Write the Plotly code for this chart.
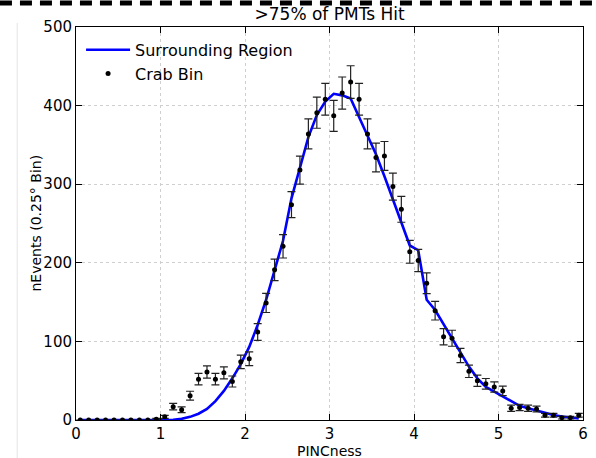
import plotly.graph_objects as go

# Bin centres (PINCness)
x_bins = [round(0.05 + 0.1 * i, 2) for i in range(60)]

# Crab Bin counts
crab_counts = [0, 0, 0, 0, 0, 0, 0, 0, 0, 1,
               4, 17, 13, 31, 52, 61, 52, 60, 49, 74,
               78, 112, 149, 191, 221, 274, 318, 364, 391, 408,
               387, 416, 430, 408, 364, 334, 336, 297, 268, 214,
               203, 174, 139, 106, 104, 82, 62, 50, 46, 42,
               37, 15, 16, 15, 14, 6, 6, 3, 3, 6]

# Error bars
crab_errors = [0, 0, 0, 0, 0, 0, 0, 0, 0, 1,
               2, 4.1, 3.6, 5.6, 7.2, 7.8, 7.2, 7.7, 7, 8.6,
               8.8, 10.6, 12.2, 13.8, 14.9, 16.6, 17.8, 19.1, 19.8, 20.2,
               19.7, 20.4, 20.7, 20.2, 19.1, 18.3, 18.3, 17.2, 16.4, 14.6,
               14.2, 13.2, 11.8, 10.3, 10.2, 9.1, 7.9, 7.1, 6.8, 6.5,
               6.1, 3.9, 4, 3.9, 3.7, 2.4, 2.4, 1.7, 1.7, 2.4]

# Surrounding Region (scaled)
surround = [0, 0, 0, 0, 0, 0, 0, 0, 0, 0,
            0, 0.3, 1.5, 4, 8, 14, 24, 37, 53, 71,
            93, 121, 153, 189, 228, 282, 322, 360, 388, 405,
            415, 413, 409, 385, 362, 338, 310, 281, 252, 222,
            216, 153, 140, 122, 104, 85, 68, 53, 42, 36,
            30, 23, 18, 15, 12, 8.5, 6.4, 4.5, 3, 2]

x_ticks = [0, 1, 2, 3, 4, 5, 6]
y_ticks = [0, 100, 200, 300, 400, 500]

fig = go.Figure()
fig.add_trace(go.Scatter(
    x=x_bins, y=surround, mode="lines", name="Surrounding Region",
    line=dict(color="#0000ff", width=2.6),
))
fig.add_trace(go.Scatter(
    x=x_bins, y=crab_counts, mode="markers", name="Crab Bin",
    marker=dict(color="black", size=5),
    error_y=dict(type="data", array=crab_errors, visible=True,
                 color="#222222", thickness=1.2, width=4),
))

font = "DejaVu Sans, Verdana, sans-serif"
axis_common = dict(
    showline=True, linecolor="black", linewidth=1, mirror="ticks",
    ticks="inside", ticklen=6, tickcolor="black", automargin=False,
    showgrid=True, gridcolor="#cfcfcf", griddash="dot", gridwidth=1,
    zeroline=False, tickfont=dict(size=15, color="black", family=font),
)
fig.update_xaxes(range=[0, 6], tickvals=x_ticks, **axis_common)
fig.update_yaxes(range=[0, 500], tickvals=y_ticks, **axis_common)

fig.update_layout(
    width=596, height=458,
    margin=dict(l=76, r=13, t=27, b=38),
    paper_bgcolor="white", plot_bgcolor="white",
    font=dict(family=font, color="black"),
    title=dict(text=">75% of PMTs Hit", x=0.553, xanchor="center",
               yref="container", y=1 - 14 / 458, yanchor="middle",
               font=dict(size=17, family=font, color="black")),
    legend=dict(x=0.01, y=0.985, xanchor="left", yanchor="top",
                bgcolor="rgba(0,0,0,0)", font=dict(size=16, family=font, color="black"),
                itemwidth=44),
    showlegend=True,
)

# Axis titles
fig.add_annotation(text="PINCness", xref="paper", yref="paper",
                   x=0.5, y=-(451 - 420) / 393, xanchor="center", yanchor="middle",
                   showarrow=False, font=dict(size=14, family=font, color="black"))
fig.add_annotation(text="nEvents (0.25° Bin)", xref="paper", yref="paper",
                   x=(35 - 76) / 507, y=0.5, xanchor="center", yanchor="middle",
                   textangle=-90, showarrow=False,
                   font=dict(size=14, family=font, color="black"))

# Top dashed border and faint left page line
fig.add_shape(type="line", xref="paper", yref="paper",
              x0=-0.15, x1=1.03, y0=1.061, y1=1.061,
              line=dict(color="black", width=5, dash="12px,8px"))
fig.add_shape(type="line", xref="paper", yref="paper",
              x0=-0.116, x1=-0.116, y0=-0.1, y1=1.01,
              line=dict(color="#e4e4e4", width=1))

fig.write_html("out.html")
